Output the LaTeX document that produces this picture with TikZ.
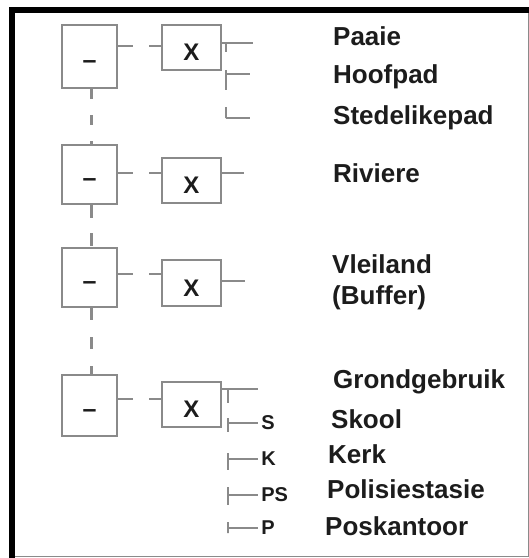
\documentclass[tikz,border=0pt]{standalone}
\usepackage{fontspec}
\setmainfont{Liberation Sans}
\definecolor{linegray}{RGB}{138,138,138}
\definecolor{inkblack}{RGB}{28,28,28}
\tikzset{
  stepbox/.style={draw=linegray,line width=2.5pt,minimum width=55pt,inner sep=0pt,
    label={[yshift=-8pt,text=inkblack,font=\fontsize{25}{25}\selectfont\bfseries]center:--}},
  actbox/.style={draw=linegray,line width=2.5pt,minimum width=59pt,minimum height=45pt,inner sep=0pt,
    label={[yshift=-5pt,text=inkblack,font=\fontsize{24}{24}\selectfont\bfseries]center:X}},
  wire/.style={linegray,line width=2.5pt},
  hlink/.style={wire,dash pattern=on 15pt off 16pt},
  vlink/.style={wire,dash pattern=on 12pt off 17pt},
  item/.style={anchor=base west,inner sep=0pt,text=inkblack,font=\fontsize{26}{30}\selectfont\bfseries},
  tag/.style={anchor=west,inner sep=0pt,text=inkblack,font=\fontsize{20}{22}\selectfont\bfseries},
}
\begin{document}
\begin{tikzpicture}[x=1pt,y=-1pt]
\useasboundingbox (0,0) rectangle (529,558);
%
\draw [linegray,line width=1pt] (12,10) rectangle (528,556);
\draw [black,line width=5.5pt,line join=miter] (12,558) -- (12,9.75) -- (529,9.75);
%
\node [stepbox,minimum height=63pt] (s1) at (89.5,56.5) {};
\node [stepbox,minimum height=59pt] (s2) at (89.5,174.5) {};
\node [stepbox,minimum height=59pt] (s3) at (89.5,277.5) {};
\node [stepbox,minimum height=61pt] (s4) at (89.5,405.5) {};
\node [actbox] (x1) at (191.5,47.5) {};
\node [actbox] (x2) at (191.5,180.5) {};
\node [actbox,minimum height=46pt] (x3) at (191.5,283) {};
\node [actbox] (x4) at (191.5,404.5) {};
%
\draw [vlink,dash pattern=on 10pt off 16pt] ([xshift=2pt]s1.south) -- ([xshift=2pt]s2.north);
\draw [vlink,dash pattern=on 13pt off 15pt] ([xshift=2pt]s2.south) -- ([xshift=2pt]s3.north);
\draw [vlink] ([xshift=2pt]s3.south) -- ([xshift=2pt]s4.north);
%
\coordinate (r1) at (0,46); \coordinate (r2) at (0,173); \coordinate (r3) at (0,274); \coordinate (r4) at (0,399);
\draw [hlink] (s1.east |- r1) -- (x1.west |- r1);
\draw [hlink] (s2.east |- r2) -- (x2.west |- r2);
\draw [hlink] (s3.east |- r3) -- (x3.west |- r3);
\draw [hlink] (s4.east |- r4) -- (x4.west |- r4);
%
\coordinate (b1) at (226,43); \coordinate (o2) at (0,173); \coordinate (o3) at (0,281); \coordinate (b4) at (228,389);
\draw [wire] (x1.east |- b1) -- ++(31,0);
\draw [wire,dash pattern=on 9pt off 18pt on 20pt off 17pt on 11pt off 0pt] (b1) -- ++(0,75);
\draw [wire] (b1) ++(0,31) -- ++(24,0);
\draw [wire] (b1) ++(0,75) -- ++(24,0);
\draw [wire] (x2.east |- o2) -- ++(22,0);
\draw [wire] (x3.east |- o3) -- ++(23,0);
\draw [wire] (x4.east |- b4) -- ++(36,0);
\draw [wire,dash pattern=on 14pt off 15pt on 14pt off 21pt on 17pt off 17pt on 18pt off 17pt on 11pt off 0pt] (b4) -- ++(0,144);
\draw [wire] (b4) ++(0,34) -- ++(30,0) node [tag,xshift=2pt] (t1) {S};
\draw [wire] (b4) ++(0,70) -- ++(30,0) node [tag,xshift=2pt] (t2) {K};
\draw [wire] (b4) ++(0,106) -- ++(30,0) node [tag,xshift=2pt] (t3) {PS};
\draw [wire] (b4) ++(0,139) -- ++(30,0) node [tag,xshift=2pt] (t4) {P};
%
\node [item] (n1) at (333,45) {Paaie};
\node [item] (n2) at (333,83) {Hoofpad};
\node [item] (n3) at (333,124) {Stedelikepad};
\node [item] (n4) at (333,182) {Riviere};
\node [item] (n5) at (332,273) {Vleiland};
\node [item] (n6) at (332,304) {(Buffer)};
\node [item] (n7) at (333,388) {Grondgebruik};
\node [item] (n8) at (331,428) {Skool};
\node [item] (n9) at (328,463) {Kerk};
\node [item] (n10) at (327,498) {Polisiestasie};
\node [item] (n11) at (325,535) {Poskantoor};
\end{tikzpicture}
\end{document}
